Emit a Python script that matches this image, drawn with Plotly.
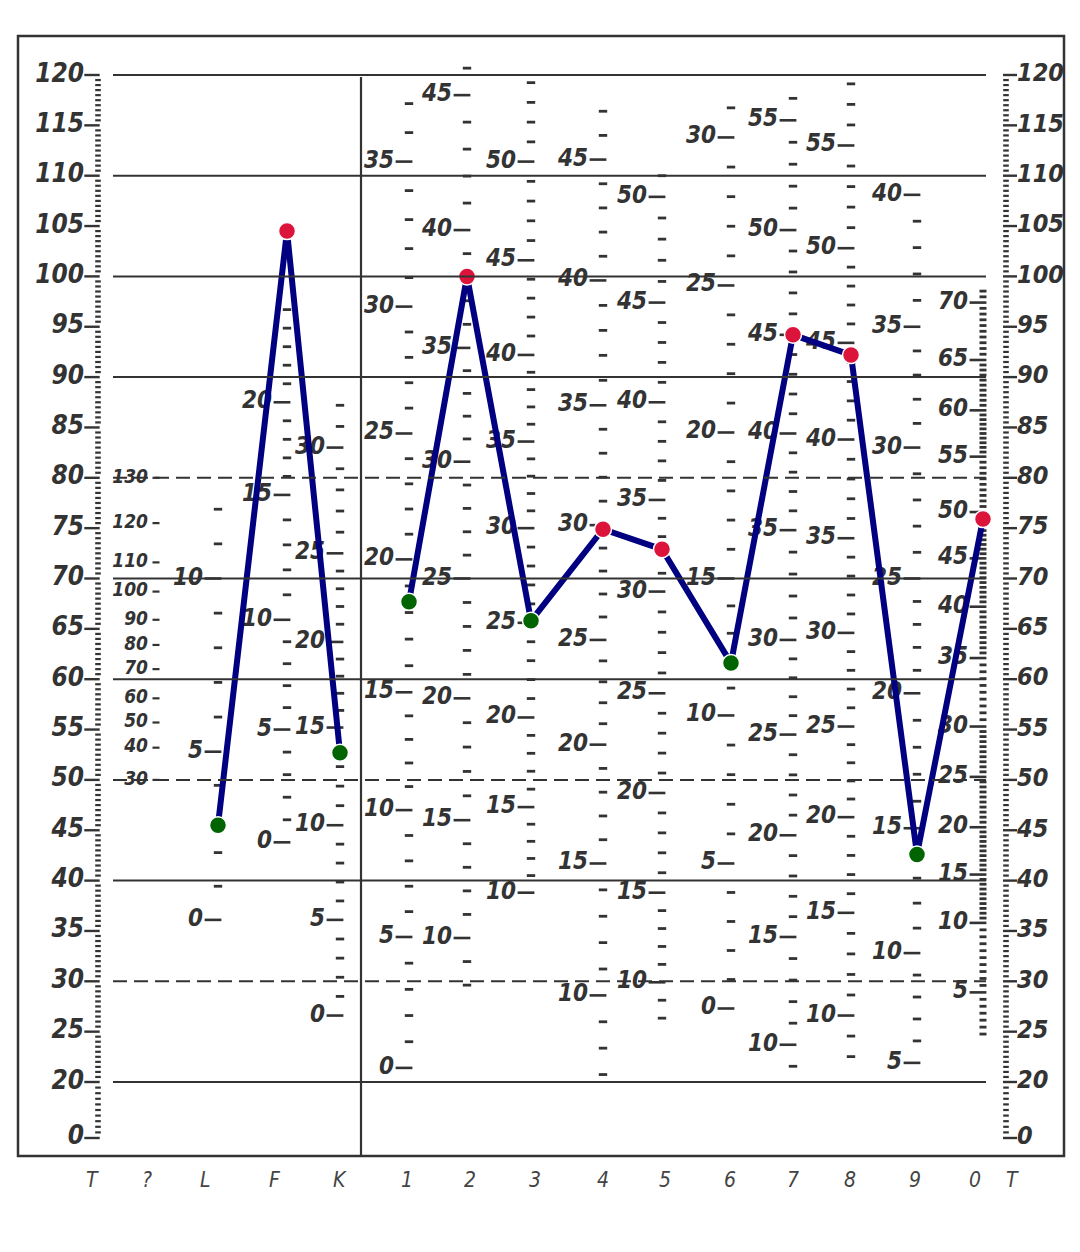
import numpy as np
import plotly.graph_objects as go

# ---------------- data ----------------
scales = ["L", "F", "K", "1", "2", "3", "4", "5", "6", "7", "8", "9", "0"]
t_scores = [45.5, 104.5, 52.7, 67.7, 100, 65.8, 74.9, 72.9, 61.6, 94.2, 92.2, 42.6, 75.9]

bottom_labels = ["T", "?", "L", "F", "K", "1", "2", "3", "4", "5", "6", "7", "8", "9", "0", "T"]
t_ticks = [0, 20, 25, 30, 35, 40, 45, 50, 55, 60, 65, 70, 75, 80, 85, 90, 95, 100, 105, 110, 115, 120]

q_labels = [130, 120, 110, 100, 90, 80, 70, 60, 50, 40, 30]
q_T = [80, 75.5, 71.6, 68.7, 65.9, 63.4, 61, 58.1, 55.7, 53.2, 50]

raw_L = [0, 5, 10];                     rawT_L = [36.1, 52.8, 70.0]
raw_F = [0, 5, 10, 15, 20];             rawT_F = [43.8, 55.0, 65.9, 78.3, 87.5]
raw_K = [0, 5, 10, 15, 20, 25, 30];     rawT_K = [26.6, 36.1, 45.5, 55.2, 63.7, 72.5, 83.0]
raw_1 = [0, 5, 10, 15, 20, 25, 30, 35]; rawT_1 = [21.4, 34.4, 47.0, 58.7, 71.9, 84.4, 97.0, 111.4]
raw_2 = [10, 15, 20, 25, 30, 35, 40, 45]; rawT_2 = [34.3, 46.0, 58.1, 70.0, 81.6, 92.9, 104.6, 118.0]
raw_3 = [10, 15, 20, 25, 30, 35, 40, 45, 50]; rawT_3 = [38.8, 47.3, 56.2, 65.6, 75.0, 83.6, 92.2, 101.6, 111.4]
raw_4 = [10, 15, 20, 25, 30, 35, 40, 45]; rawT_4 = [28.6, 41.7, 53.5, 63.9, 75.3, 87.2, 99.6, 111.6]
raw_5 = [10, 15, 20, 25, 30, 35, 40, 45, 50]; rawT_5 = [29.9, 38.8, 48.7, 58.6, 68.7, 77.8, 87.5, 97.4, 107.9]
raw_6 = [0, 5, 10, 15, 20, 25, 30];     rawT_6 = [27.3, 41.7, 56.4, 70.0, 84.5, 99.1, 113.8]
raw_7 = [10, 15, 20, 25, 30, 35, 40, 45, 50, 55]; rawT_7 = [23.7, 34.4, 44.5, 54.5, 63.9, 74.8, 84.4, 94.2, 104.6, 115.5]
raw_8 = [10, 15, 20, 25, 30, 35, 40, 45, 50, 55]; rawT_8 = [26.6, 36.8, 46.3, 55.3, 64.6, 74.0, 83.8, 93.4, 102.8, 113.0]
raw_9 = [5, 10, 15, 20, 25, 30, 35, 40]; rawT_9 = [21.9, 32.8, 45.2, 58.6, 70.0, 83.0, 95.0, 108.1]
raw_0 = [5, 10, 15, 20, 25, 30, 35, 40, 45, 50, 55, 60, 65, 70]
rawT_0 = [28.9, 35.8, 40.6, 45.3, 50.3, 55.3, 62.1, 67.2, 72.0, 76.6, 82.1, 86.7, 91.7, 97.4]

# raw-score dash extents (min, max, step) per scale
raw_extent = {"L": (0, 12, 1), "F": (0, 25, 1), "K": (0, 32, 1), "1": (0, 37, 1), "2": (8, 46, 1),
              "3": (10, 54, 1), "4": (7, 47, 1), "5": (8, 51, 1), "6": (0, 31, 1), "7": (9, 56, 1),
              "8": (8, 58, 1), "9": (5, 40, 1), "0": (2, 71, 0.5)}
calib = {"L": (raw_L, rawT_L), "F": (raw_F, rawT_F), "K": (raw_K, rawT_K), "1": (raw_1, rawT_1),
         "2": (raw_2, rawT_2), "3": (raw_3, rawT_3), "4": (raw_4, rawT_4), "5": (raw_5, rawT_5),
         "6": (raw_6, rawT_6), "7": (raw_7, rawT_7), "8": (raw_8, rawT_8), "9": (raw_9, rawT_9),
         "0": (raw_0, rawT_0)}

# ---------------- layout constants ----------------
W, H = 1080, 1252
col_x = {"L": 218, "F": 287, "K": 340, "1": 409, "2": 467, "3": 531, "4": 603, "5": 662,
         "6": 731, "7": 793, "8": 851, "9": 917, "0": 983}
bottom_x = [92, 147, 205, 275, 340, 407, 470, 535, 603, 665, 730, 793, 850, 915, 975, 1012]
INK = "#333333"
FONT = "Liberation Sans Narrow, DejaVu Sans Condensed, DejaVu Sans, sans-serif"
PX_PER_T = 10.07
Y_TOP_T = 120 + 75 / PX_PER_T
Y_BOT_T = 120 - (H - 75) / PX_PER_T


def tmap(t):
    t = np.asarray(t, dtype=float)
    return np.where(t >= 20, t, 20 - (20 - t) * 0.278)


def raw_to_t(raw, xs, ys):
    raw = np.asarray(raw, dtype=float)
    out = np.interp(raw, xs, ys)
    lo_s = (ys[1] - ys[0]) / (xs[1] - xs[0])
    hi_s = (ys[-1] - ys[-2]) / (xs[-1] - xs[-2])
    out = np.where(raw < xs[0], ys[0] + (raw - xs[0]) * lo_s, out)
    out = np.where(raw > xs[-1], ys[-1] + (raw - xs[-1]) * hi_s, out)
    return out


def py(pix):
    return 1 - pix / H


fig = go.Figure()

# frame, divider, grid lines
shapes = []
shapes.append(dict(type="rect", xref="x", yref="paper", x0=18, x1=1064, y0=py(1156), y1=py(36),
                   line=dict(color=INK, width=2.5)))
shapes.append(dict(type="line", xref="x", yref="paper", x0=361, x1=361, y0=py(1156), y1=py(77),
                   line=dict(color=INK, width=2.2)))
for g in [120, 110, 100, 90, 80, 70, 60, 50, 40, 30, 20]:
    dash = "14px,7px" if g in (80, 50, 30) else "solid"
    shapes.append(dict(type="line", xref="x", yref="y", x0=113, x1=986, y0=g, y1=g,
                       line=dict(color=INK, width=2, dash=dash)))

# T scales (left and right)
t_dense = np.concatenate([np.arange(0, 20, 2), np.arange(20, 120.01, 0.5)])
t_dense = [t for t in t_dense if t not in t_ticks]
for sx in (98, 1006):
    fig.add_trace(go.Scatter(x=[sx] * len(t_dense), y=tmap(t_dense), mode="markers",
                             marker=dict(symbol="line-ew", size=4, line=dict(width=2.2, color=INK)),
                             hoverinfo="skip", showlegend=False))
fig.add_trace(go.Scatter(x=[92] * len(t_ticks), y=tmap(t_ticks), mode="markers",
                         marker=dict(symbol="line-ew", size=11, line=dict(width=2.4, color=INK)),
                         hoverinfo="skip", showlegend=False))
fig.add_trace(go.Scatter(x=[1010] * len(t_ticks), y=tmap(t_ticks), mode="markers",
                         marker=dict(symbol="line-ew", size=10, line=dict(width=2.4, color=INK)),
                         hoverinfo="skip", showlegend=False))
fig.add_trace(go.Scatter(x=[84] * len(t_ticks), y=tmap(t_ticks), mode="text",
                         text=[str(t) for t in t_ticks], textposition="middle left",
                         textfont=dict(family=FONT, size=26, color=INK, style="italic", weight=600),
                         hoverinfo="skip", showlegend=False))
fig.add_trace(go.Scatter(x=[1017] * len(t_ticks), y=tmap(t_ticks), mode="text",
                         text=[str(t) for t in t_ticks], textposition="middle right",
                         textfont=dict(family=FONT, size=25, color=INK, style="italic", weight=600),
                         hoverinfo="skip", showlegend=False))

# "?" column labels
fig.add_trace(go.Scatter(x=[148] * len(q_labels), y=q_T, mode="text",
                         text=[str(v) for v in q_labels], textposition="middle left",
                         textfont=dict(family=FONT, size=19, color=INK, style="italic", weight=600),
                         hoverinfo="skip", showlegend=False))
fig.add_trace(go.Scatter(x=[156] * len(q_labels), y=q_T, mode="markers",
                         marker=dict(symbol="line-ew", size=5, line=dict(width=2.2, color=INK)),
                         hoverinfo="skip", showlegend=False))

# raw-score scales
for s in scales:
    xs, ys = calib[s]
    lo, hi, st = raw_extent[s]
    raws = np.arange(lo, hi + 1e-9, st)
    small = [r for r in raws if r not in xs]
    cx = col_x[s]
    fig.add_trace(go.Scatter(x=[cx] * len(small), y=raw_to_t(small, xs, ys), mode="markers",
                             marker=dict(symbol="line-ew", size=6 if st == 1 else 5,
                                         line=dict(width=2.8, color=INK)),
                             hoverinfo="skip", showlegend=False))
    fig.add_trace(go.Scatter(x=[cx - 5] * len(xs), y=ys, mode="markers",
                             marker=dict(symbol="line-ew", size=12, line=dict(width=2.6, color=INK)),
                             hoverinfo="skip", showlegend=False))
    fig.add_trace(go.Scatter(x=[cx - 15] * len(xs), y=ys, mode="text",
                             text=[str(v) for v in xs], textposition="middle left",
                             textfont=dict(family=FONT, size=24, color=INK, style="italic", weight=600),
                             hoverinfo="skip", showlegend=False))

# profile line
colors = ["#DC143C" if t >= 70 else "#006400" for t in t_scores]
groups = [scales[:3], scales[3:]]
for grp in groups:
    idx = [scales.index(s) for s in grp]
    fig.add_trace(go.Scatter(x=[col_x[s] for s in grp], y=[t_scores[i] for i in idx],
                             mode="lines", line=dict(color="#000080", width=6),
                             hoverinfo="skip", showlegend=False))
fig.add_trace(go.Scatter(x=[col_x[s] for s in scales], y=t_scores, mode="markers",
                         marker=dict(size=17, color=colors, line=dict(color="white", width=1.5)),
                         text=scales, hovertemplate="%{text}: T=%{y}<extra></extra>", showlegend=False))

annotations = [dict(x=bx, y=py(1180), xref="x", yref="paper", yanchor="middle", xanchor="center",
                    text=lab, showarrow=False,
                    font=dict(family=FONT, size=21, color="#444444", style="italic"))
               for bx, lab in zip(bottom_x, bottom_labels)]

fig.update_layout(width=W, height=H, margin=dict(l=0, r=0, t=0, b=0),
                  paper_bgcolor="white", plot_bgcolor="white",
                  xaxis=dict(range=[0, W], visible=False, fixedrange=True),
                  yaxis=dict(range=[Y_BOT_T, Y_TOP_T], visible=False, fixedrange=True),
                  shapes=shapes, annotations=annotations)

fig.write_html("out.html", config={"displayModeBar": False},
               post_script="document.body.style.margin='0';")
